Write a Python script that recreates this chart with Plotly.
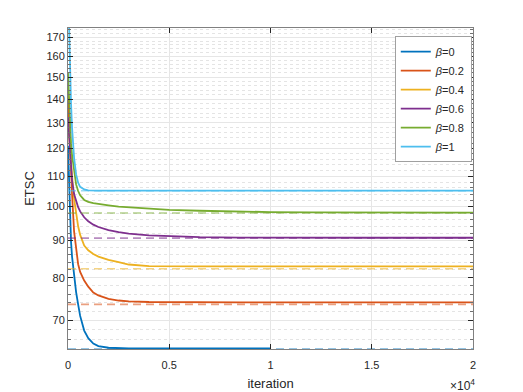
import plotly.graph_objects as go
import numpy as np

iters = [0, 50, 100, 150, 200, 300, 400, 500, 600, 800, 1000, 1250, 1500,
         2000, 2500, 3000, 4000, 5000, 6500, 8500, 10000, 12000, 15000, 20000]

etsc_b0 = [121, 108, 97, 89.5, 85.5, 80.5, 76.5, 73.6, 71, 67.8, 66.2, 65.1, 64.6,
           64.25, 64.1, 64.1, 64.1, 64.1, 64.1, 64.1, 64.1, None, None, None]
etsc_b02 = [142, 130, 120, 111, 104, 92.5, 87, 83.5, 81.5, 79.3, 77.8, 76.4, 75.7,
            74.9, 74.5, 74.3, 74.15, 74.1, 74.07, 74.05, 74.05, 74.05, 74.05, 74.05]
etsc_b04 = [131, 125, 119, 114, 110, 102.5, 97.5, 94, 91.5, 88.5, 87.2, 86.2, 85.5,
            84.6, 84.0, 83.4, 83.0, 82.9, 82.9, 82.9, 82.9, 82.9, 82.9, 82.9]
etsc_b06 = [132, 126, 119, 113, 108.5, 104, 101.5, 99.8, 98.5, 96.7, 95.5, 94.5, 93.8,
            92.9, 92.3, 91.9, 91.4, 91.1, 90.85, 90.75, 90.7, 90.7, 90.7, 90.7]
etsc_b08 = [152, 140, 129, 122, 117.5, 111.9, 107.2, 105, 103.6, 102.1, 101.5, 101.1, 100.8,
            100.4, 100.0, 99.8, 99.4, 99.0, 98.7, 98.4, 98.3, 98.2, 98.15, 98.1]
etsc_b1 = [201, 172, 152, 138, 128, 116.4, 110.6, 107.8, 106.4, 105.5, 105.2, 105.1, 105.1,
           105.1, 105.1, 105.1, 105.1, 105.1, 105.1, 105.1, 105.1, 105.1, 105.1, 105.1]

# dashed reference levels
bound_levels = [64.0, 73.6, 82.3, 90.6, 98.0, 105.1]
bound_x = [0, 20000]

betas = ["0", "0.2", "0.4", "0.6", "0.8", "1"]
colors = ["#0072BD", "#D95319", "#EDB120", "#7E2F8E", "#77AC30", "#4DBEEE"]

y_major = [70, 80, 90, 100, 110, 120, 130, 140, 150, 160, 170]
y_minor = [v for v in range(64, 176, 2) if v % 10 != 0]
x_ticks = [0, 5000, 10000, 15000, 20000]
x_ticktext = ["0", "0.5", "1", "1.5", "2"]

series = [etsc_b0, etsc_b02, etsc_b04, etsc_b06, etsc_b08, etsc_b1]

fig = go.Figure()
for b, vals, c in zip(betas, series, colors):
    fig.add_trace(go.Scatter(x=iters, y=vals, mode="lines", name="<i>β</i>=" + b,
                             line=dict(color=c, width=1.8), connectgaps=False))
for lvl, c in zip(bound_levels, colors):
    fig.add_trace(go.Scatter(x=bound_x, y=[lvl, lvl], mode="lines", showlegend=False,
                             opacity=0.55, line=dict(color=c, width=1.6, dash="8px,5px")))

axis_col = "#808080"
fig.update_xaxes(range=[0, 20000], tickvals=x_ticks, ticktext=x_ticktext,
                 showline=True, linecolor=axis_col, linewidth=1, mirror="ticks",
                 ticks="inside", ticklen=5, tickcolor="#262626", ticklabelstandoff=6,
                 showgrid=True, gridcolor="#e6e6e6", zeroline=False, automargin=False,
                 tickfont=dict(size=11, color="#262626"),
                 title=dict(text="iteration", font=dict(size=13, color="#262626"), standoff=8))
fig.update_yaxes(type="log", range=[np.log10(64), np.log10(175)], tickvals=y_major,
                 showline=True, linecolor=axis_col, linewidth=1, mirror="ticks",
                 ticks="inside", ticklen=5, tickcolor="#262626", automargin=False,
                 showgrid=True, gridcolor="#e6e6e6", zeroline=False,
                 minor=dict(tickvals=y_minor, ticks="inside", ticklen=3, tickcolor="#707070",
                            showgrid=True, gridcolor="#e4e4e4", gridwidth=1, griddash="dot"),
                 tickfont=dict(size=11, color="#262626"),
                 title=dict(text="ETSC", font=dict(size=13, color="#262626"), standoff=8))

fig.add_annotation(text="×10<sup>4</sup>", xref="paper", yref="paper", x=0.973, y=-0.142,
                   showarrow=False, font=dict(size=12, color="#262626"),
                   xanchor="center", yanchor="bottom")

# page body adds an 8px offset, so the figure is sized to the visible area
fig.update_layout(width=515, height=384,
                  margin=dict(l=60, r=50, t=20, b=43),
                  paper_bgcolor="white", plot_bgcolor="white",
                  font=dict(family="Liberation Sans, Arial, sans-serif"),
                  legend=dict(x=0.997, y=0.975, xanchor="right", yanchor="top",
                              bordercolor="#a0a0a0", borderwidth=1, bgcolor="white",
                              font=dict(size=11, color="#262626"),
                              tracegroupgap=0))

fig.write_html("out.html")
